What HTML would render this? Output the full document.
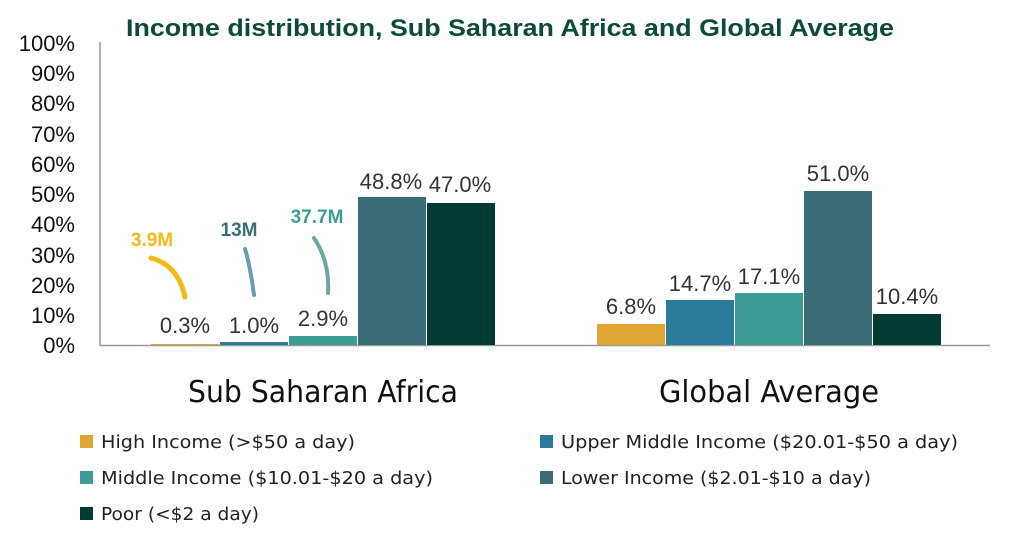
<!DOCTYPE html><html><head><style>body{margin:0;background:#fff}</style></head><body>
<svg width="1024" height="540" xmlns="http://www.w3.org/2000/svg" font-family="Liberation Sans, sans-serif">
<text x="510" y="36" text-anchor="middle" font-size="24" font-weight="bold" fill="#0d4a3a" textLength="768" lengthAdjust="spacingAndGlyphs">Income distribution, Sub Saharan Africa and Global Average</text>
<g font-size="22" fill="#111" text-anchor="end">
<text x="75" y="51">100%</text><text x="75" y="81">90%</text><text x="75" y="111">80%</text><text x="75" y="142">70%</text><text x="75" y="172">60%</text><text x="75" y="202">50%</text><text x="75" y="232">40%</text><text x="75" y="263">30%</text><text x="75" y="293">20%</text><text x="75" y="323">10%</text><text x="75" y="353">0%</text>
</g>
<line x1="100" y1="42" x2="100" y2="346" stroke="#999" stroke-width="1.5"/>
<line x1="100" y1="345.5" x2="990" y2="345.5" stroke="#999" stroke-width="1.5"/>
<g>
<rect x="151" y="344" width="68" height="1" fill="#E0A535"/>
<rect x="220" y="342" width="68" height="3" fill="#2A7A99"/>
<rect x="289" y="336" width="68" height="9" fill="#3E9C96"/>
<rect x="358" y="197" width="68" height="148" fill="#3A6D75"/>
<rect x="427" y="203" width="68" height="142" fill="#003A33"/>
<rect x="597" y="324" width="68" height="21" fill="#E0A535"/>
<rect x="666" y="300" width="68" height="45" fill="#2A7A99"/>
<rect x="735" y="293" width="68" height="52" fill="#3E9C96"/>
<rect x="804" y="191" width="68" height="154" fill="#3A6D75"/>
<rect x="873" y="314" width="68" height="31" fill="#003A33"/>
</g>
<g font-size="22" fill="#333" text-anchor="middle">
<text x="185" y="333">0.3%</text><text x="254" y="333">1.0%</text><text x="323" y="326">2.9%</text>
<text x="391" y="189">48.8%</text><text x="460" y="192">47.0%</text>
<text x="631" y="314">6.8%</text><text x="700" y="291">14.7%</text><text x="769" y="284">17.1%</text>
<text x="838" y="181">51.0%</text><text x="907" y="304">10.4%</text>
</g>
<g font-size="19" font-weight="bold" text-anchor="middle">
<text x="152" y="246" fill="#F5B914">3.9M</text>
<text x="239" y="236" fill="#3A6D75">13M</text>
<text x="317" y="223" fill="#3E9C96">37.7M</text>
</g>
<g fill="none" stroke-linecap="round" stroke-width="5">
<path d="M151 258 Q178 265 185 297" stroke="#F5B914"/>
<path d="M245 249 Q250 265 254 295" stroke="#6A9BAE" stroke-width="4"/>
<path d="M314 238 Q330 262 328 293" stroke="#6AA8A2" stroke-width="4"/>
</g>
<g font-size="30" fill="#111" text-anchor="middle" font-family="DejaVu Sans, sans-serif">
<text x="323" y="402" textLength="270" lengthAdjust="spacingAndGlyphs">Sub Saharan Africa</text>
<text x="769" y="402" textLength="220" lengthAdjust="spacingAndGlyphs">Global Average</text>
</g>
<g font-size="18" fill="#222" font-family="DejaVu Sans, sans-serif">
<rect x="80" y="435" width="13" height="13" fill="#E0A535"/><text x="101" y="448" textLength="254" lengthAdjust="spacingAndGlyphs">High Income (&gt;$50 a day)</text>
<rect x="540" y="435" width="13" height="13" fill="#2A7A99"/><text x="561" y="448" textLength="397" lengthAdjust="spacingAndGlyphs">Upper Middle Income ($20.01-$50 a day)</text>
<rect x="80" y="471" width="13" height="13" fill="#3E9C96"/><text x="101" y="484" textLength="332" lengthAdjust="spacingAndGlyphs">Middle Income ($10.01-$20 a day)</text>
<rect x="540" y="471" width="13" height="13" fill="#3A6D75"/><text x="561" y="484" textLength="310" lengthAdjust="spacingAndGlyphs">Lower Income ($2.01-$10 a day)</text>
<rect x="80" y="507" width="13" height="13" fill="#003A33"/><text x="101" y="520" textLength="158" lengthAdjust="spacingAndGlyphs">Poor (&lt;$2 a day)</text>
</g>
</svg>
</body></html>
